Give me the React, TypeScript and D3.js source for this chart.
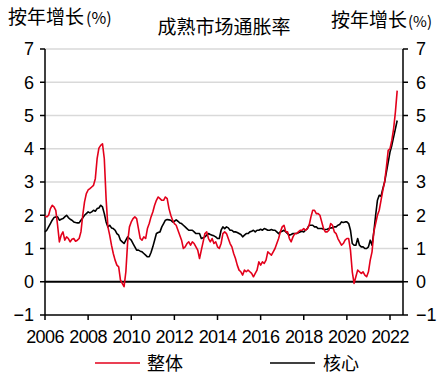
import React from "react";
import * as d3 from "d3";

// Monthly data, Jan 2006 – May 2022 (YoY %)
const startYear = 2006;
const headline: number[] = [
  // 2006
  1.98, 1.95, 2.0, 2.2, 2.3, 2.25, 2.15, 1.7, 1.2, 1.4, 1.5, 1.25,
  // 2007
  1.35, 1.3, 1.2, 1.28, 1.3, 1.22, 1.25, 1.3, 1.5, 2.0, 2.4, 2.65,
  // 2008
  2.76, 2.8, 2.85, 2.9, 3.1, 3.7, 4.02, 4.1, 4.15, 3.7, 2.5, 1.65,
  // 2009
  1.4, 1.1, 0.85, 0.65, 0.5, 0.45, 0.05, -0.05, -0.15, 0.3, 1.2, 1.65,
  // 2010
  1.8, 1.9, 1.95, 1.9, 1.6, 1.3, 1.25, 1.35, 1.3, 1.6, 1.75, 1.95,
  // 2011
  2.1, 2.3, 2.45, 2.55, 2.5, 2.45, 2.45, 2.55, 2.5, 2.2, 2.0, 1.85,
  // 2012
  1.75, 1.7, 1.55, 1.4, 1.25, 1.0, 1.05, 1.15, 1.2, 1.1, 1.2, 1.15,
  // 2013
  1.05, 0.95, 0.7, 0.95, 1.2, 1.45, 1.5, 1.3, 1.2, 1.3, 1.15, 1.2,
  // 2014
  1.05, 1.0, 1.15, 1.45, 1.5, 1.45, 1.3, 1.15, 1.05, 0.85, 0.7, 0.5,
  // 2015
  0.35, 0.3, 0.2, 0.35, 0.3, 0.35, 0.3, 0.25, 0.15, 0.25, 0.35, 0.6,
  // 2016
  0.5, 0.6, 0.55, 0.65, 0.9, 0.85, 0.8, 0.9, 1.0, 1.15, 1.3, 1.5,
  // 2017
  1.65, 1.7, 1.5, 1.5, 1.3, 1.2, 1.35, 1.45, 1.45, 1.5, 1.55, 1.55,
  // 2018
  1.6, 1.55, 1.6, 1.7, 1.95, 2.15, 2.15, 2.05, 2.05, 2.0, 1.8, 1.6,
  // 2019
  1.5, 1.5, 1.55, 1.75, 1.7, 1.5, 1.45, 1.3, 1.2, 1.1, 1.15, 1.25,
  // 2020
  1.3, 1.3, 0.95, 0.3, -0.05, 0.15, 0.35, 0.3, 0.25, 0.3, 0.2, 0.15,
  // 2021
  0.3, 0.65, 0.9, 1.5, 1.75, 2.0, 2.15, 2.45, 2.75, 3.0, 3.45, 3.95,
  // 2022
  4.0, 4.25, 4.6, 5.1, 5.75,
];

const core: number[] = [
  // 2006
  1.5, 1.55, 1.65, 1.75, 1.85, 1.93, 1.95, 1.95, 1.85, 1.88, 1.9, 1.95,
  // 2007
  2.0, 1.93, 1.88, 1.85, 1.8, 1.78, 1.77, 1.77, 1.85, 1.92, 2.0, 2.05,
  // 2008
  2.1, 2.07, 2.1, 2.15, 2.12, 2.2, 2.22, 2.3, 2.25, 2.05, 1.8, 1.65,
  // 2009
  1.7, 1.62, 1.6, 1.55, 1.45, 1.4, 1.25, 1.2, 1.15, 1.25, 1.35, 1.3,
  // 2010
  1.25, 1.15, 1.05, 0.95, 0.95, 0.92, 0.9, 0.85, 0.8, 0.75, 0.75, 0.88,
  // 2011
  1.05, 1.25, 1.45, 1.48, 1.5, 1.65, 1.75, 1.85, 1.87, 1.86, 1.85, 1.8,
  // 2012
  1.82, 1.86, 1.82, 1.77, 1.75, 1.7, 1.65, 1.6, 1.55, 1.55, 1.55, 1.5,
  // 2013
  1.45, 1.45, 1.45, 1.3, 1.32, 1.35, 1.4, 1.45, 1.42, 1.4, 1.38, 1.35,
  // 2014
  1.3, 1.3, 1.55, 1.65, 1.6, 1.65, 1.62, 1.55, 1.55, 1.5, 1.5, 1.48,
  // 2015
  1.45, 1.42, 1.35, 1.4, 1.45, 1.45, 1.5, 1.52, 1.55, 1.5, 1.55, 1.55,
  // 2016
  1.58, 1.55, 1.6, 1.58, 1.55, 1.55, 1.57, 1.55, 1.55, 1.5, 1.45, 1.5,
  // 2017
  1.52, 1.55, 1.5, 1.45, 1.4, 1.42, 1.45, 1.45, 1.45, 1.47, 1.5, 1.52,
  // 2018
  1.5, 1.55, 1.6, 1.7, 1.7, 1.7, 1.65, 1.65, 1.6, 1.6, 1.6, 1.58,
  // 2019
  1.57, 1.58, 1.6, 1.62, 1.62, 1.65, 1.65, 1.7, 1.72, 1.8, 1.78, 1.8,
  // 2020
  1.8, 1.75, 1.55, 1.15, 1.1, 1.1, 1.3, 1.1, 1.05, 1.05, 1.0, 1.0,
  // 2021
  1.05, 1.25, 1.1, 1.5, 2.0, 2.45, 2.6, 2.57, 2.8, 3.0, 3.3, 3.6,
  // 2022
  3.9, 4.1, 4.35, 4.6, 4.85,
];

const xTickYears = [2006, 2008, 2010, 2012, 2014, 2016, 2018, 2020, 2022];
const yTicks = [-1, 0, 1, 2, 3, 4, 5, 6, 7];
const title = "成熟市场通胀率";
const axisLabel = "按年增长";
const seriesNames = ["整体", "核心"];

const W = 439;
const H = 377;
const RED = "#e3001b";
const FONT = "'Liberation Sans', Arial, 'Noto Sans CJK SC', sans-serif";
const CJK = "'Noto Sans CJK SC', 'Liberation Sans', sans-serif";

export default function App() {
  const x = d3.scaleLinear().domain([2006, 2022]).range([45, 390]);
  const y = d3.scaleLinear().domain([-1, 7]).range([315, 49]);
  const plotRight = 403;

  const t = (i: number) => startYear + i / 12;
  const line = d3
    .line<number>()
    .x((_, i) => x(t(i)))
    .y((v) => y(v));

  return (
    <svg
      width={W}
      height={H}
      style={{ position: "absolute", left: 0, top: 0, background: "#fff" }}
    >
      {/* gridlines */}
      {yTicks
        .filter((v) => v !== 0 && v !== -1)
        .map((v) => (
          <line
            key={"g" + v}
            x1={45}
            x2={plotRight}
            y1={y(v)}
            y2={y(v)}
            stroke="#d9d9d9"
            strokeWidth={1.5}
          />
        ))}
      {/* zero line */}
      <line x1={45} x2={plotRight} y1={y(0)} y2={y(0)} stroke="#000" strokeWidth={2} />
      {/* bottom axis */}
      <line x1={45} x2={plotRight} y1={y(-1)} y2={y(-1)} stroke="#000" strokeWidth={1.5} />
      {/* left & right axes */}
      <line x1={45} x2={45} y1={y(7)} y2={y(-1)} stroke="#000" strokeWidth={1.5} />
      <line x1={plotRight} x2={plotRight} y1={y(7)} y2={y(-1)} stroke="#000" strokeWidth={1.5} />

      {yTicks.map((v) => (
        <g key={"yt" + v}>
          <line x1={40} x2={45} y1={y(v)} y2={y(v)} stroke="#000" strokeWidth={1.5} />
          <line x1={plotRight} x2={plotRight + 5} y1={y(v)} y2={y(v)} stroke="#000" strokeWidth={1.5} />
          <text
            x={34}
            y={y(v)}
            dy="0.36em"
            textAnchor="end"
            fontFamily={FONT}
            fontSize={18}
            fill="#000"
          >
            {v < 0 ? "\u2212" + Math.abs(v) : v}
          </text>
          <text
            x={416}
            y={y(v)}
            dy="0.36em"
            textAnchor="start"
            fontFamily={FONT}
            fontSize={18}
            fill="#000"
          >
            {v < 0 ? "\u2212" + Math.abs(v) : v}
          </text>
        </g>
      ))}

      {xTickYears.map((yr) => (
        <g key={"xt" + yr}>
          <line x1={x(yr)} x2={x(yr)} y1={y(-1)} y2={y(-1) + 5} stroke="#000" strokeWidth={1.5} />
          <text
            x={x(yr)}
            y={343}
            textAnchor="middle"
            fontFamily={FONT}
            fontSize={18}
            letterSpacing={-0.6}
            fill="#000"
          >
            {yr}
          </text>
        </g>
      ))}

      {/* series */}
      <path d={line(core) || ""} fill="none" stroke="#000" strokeWidth={1.6} strokeLinejoin="round" />
      <path d={line(headline) || ""} fill="none" stroke={RED} strokeWidth={1.6} strokeLinejoin="round" />

      {/* titles */}
      <text x={224} y={34} textAnchor="middle" fontFamily={CJK} fontSize={19} fill="#000">
        {title}
      </text>
      <text x={8} y={24} fontFamily={CJK} fontSize={19} fill="#000">
        {axisLabel}
        <tspan fontSize={16} dx={2}>(%)</tspan>
      </text>
      <text x={331} y={27} fontFamily={CJK} fontSize={19} fill="#000">
        {axisLabel}
        <tspan fontSize={15} dx={1}>(%)</tspan>
      </text>

      {/* legend */}
      <line x1={95} x2={140} y1={363} y2={363} stroke={RED} strokeWidth={1.6} />
      <text x={147} y={370} fontFamily={CJK} fontSize={18} fill="#000">
        {seriesNames[0]}
      </text>
      <line x1={270} x2={315} y1={363} y2={363} stroke="#000" strokeWidth={1.6} />
      <text x={323} y={370} fontFamily={CJK} fontSize={18} fill="#000">
        {seriesNames[1]}
      </text>
    </svg>
  );
}
